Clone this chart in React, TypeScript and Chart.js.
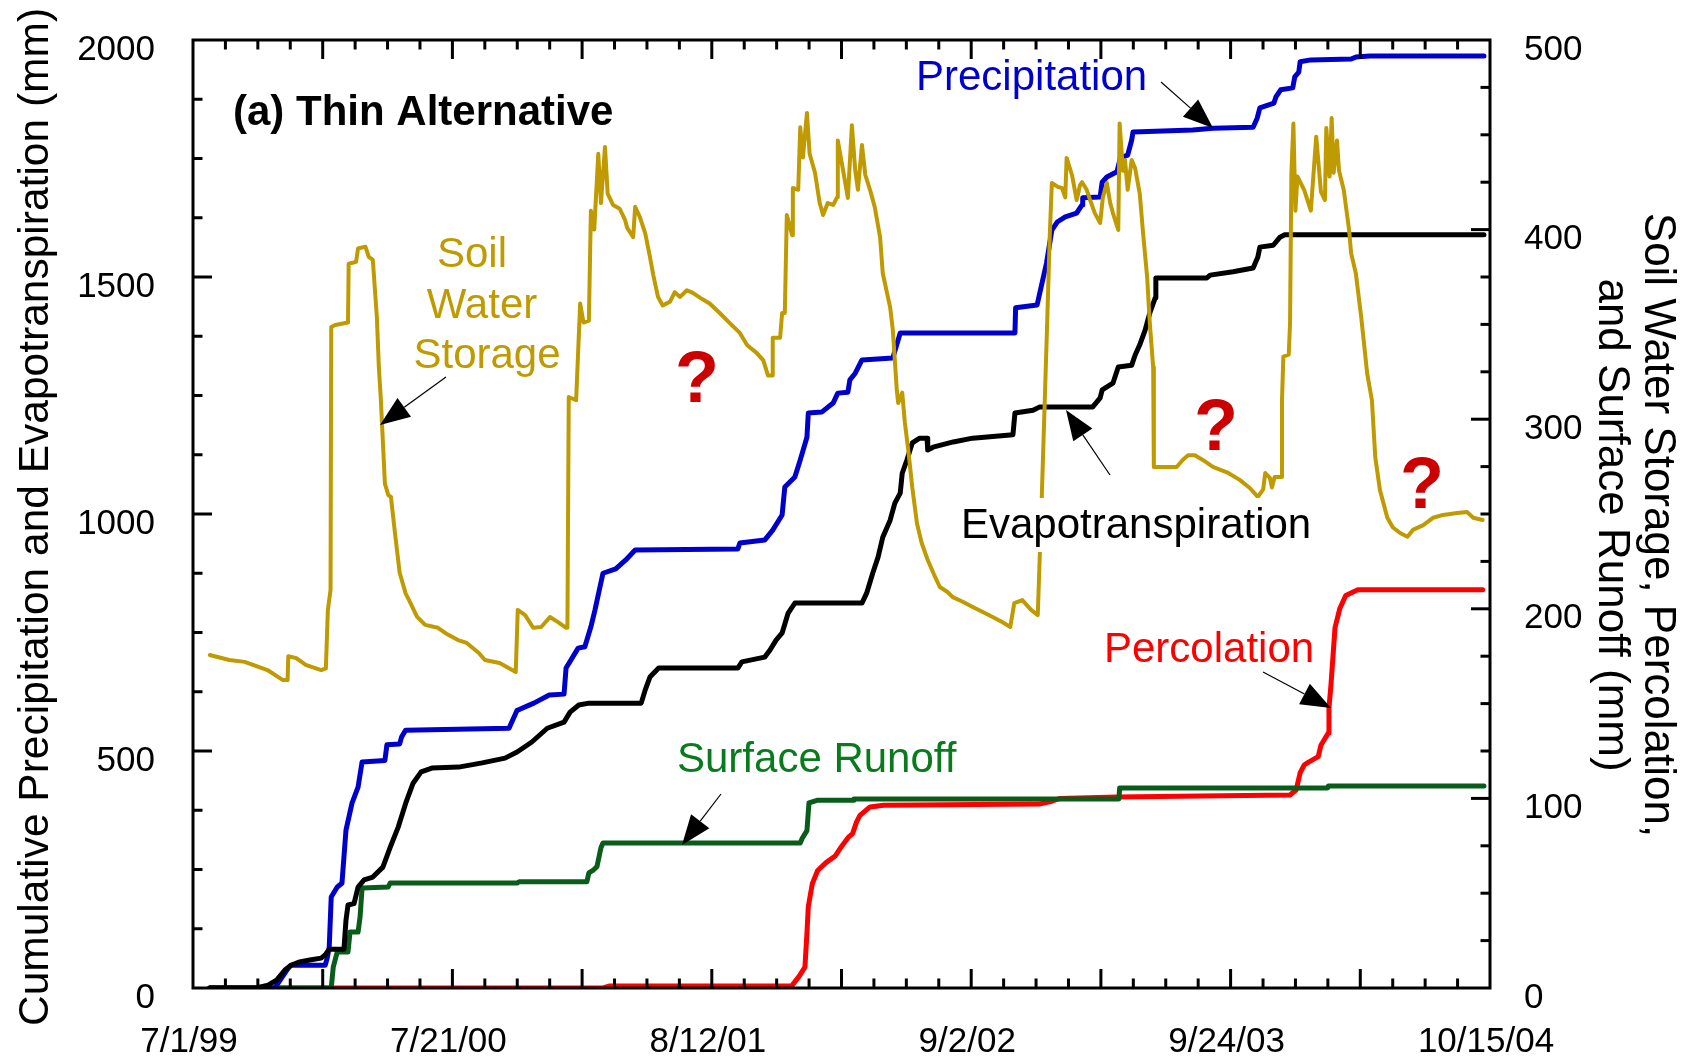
import React, { useEffect, useRef } from 'react';
import { Chart, registerables } from 'chart.js';

Chart.register(...registerables);

// ---- axes ----
const X_MAX_DAYS = 1933; // 7/1/99 .. 10/15/04
const xTickLabels = ['7/1/99', '7/21/00', '8/12/01', '9/2/02', '9/24/03', '10/15/04'];
const leftTicks = [0, 500, 1000, 1500, 2000];
const rightTicks = [0, 100, 200, 300, 400, 500];

// ---- series: [days since 7/1/99, value] ----
// Left axis (mm)
const precipitation: [number, number][] = [
  [25, 0], [122, 0], [140, 38], [146, 48], [197, 48], [200, 63], [203, 86], [206, 192], [215, 213], [222, 221],
  [228, 333], [237, 390], [246, 424], [252, 477], [286, 480], [289, 513], [308, 515], [311, 530], [317, 544],
  [471, 548], [483, 586], [487, 588], [508, 601], [531, 618], [553, 620], [556, 675], [574, 717], [584, 720],
  [593, 762], [599, 797], [611, 875], [630, 884], [645, 903], [659, 924], [812, 926], [815, 939], [852, 945],
  [864, 966], [878, 998], [882, 1057], [897, 1078], [905, 1114], [915, 1162], [917, 1213], [937, 1215],
  [954, 1234], [961, 1255], [976, 1257], [979, 1283], [987, 1297], [997, 1325], [1043, 1329], [1054, 1382],
  [1225, 1382], [1226, 1435], [1258, 1441], [1272, 1529], [1280, 1599], [1288, 1616], [1300, 1627],
  [1317, 1635], [1325, 1652], [1326, 1667], [1352, 1669], [1355, 1700], [1362, 1711], [1377, 1722],
  [1382, 1751], [1393, 1757], [1399, 1789], [1401, 1806], [1490, 1810], [1520, 1814], [1580, 1816],
  [1586, 1835], [1590, 1857], [1611, 1867], [1614, 1880], [1621, 1895], [1639, 1899], [1642, 1922],
  [1648, 1932], [1650, 1954], [1666, 1958], [1726, 1960], [1733, 1964], [1754, 1966], [1924, 1966],
];

const evapotranspiration: [number, number][] = [
  [25, 0], [94, 0], [112, 6], [125, 17], [137, 38], [146, 48], [159, 55], [174, 59], [191, 63], [197, 70],
  [203, 82], [225, 82], [228, 143], [231, 175], [240, 178], [246, 213], [255, 228], [268, 234], [283, 255],
  [294, 297], [306, 340], [317, 390], [328, 432], [340, 456], [356, 464], [396, 466], [431, 475], [465, 485],
  [483, 498], [505, 519], [528, 548], [553, 561], [562, 582], [575, 597], [590, 601], [668, 601], [674, 629],
  [681, 656], [694, 675], [812, 675], [818, 688], [852, 698], [860, 713], [869, 734], [878, 749], [887, 791],
  [897, 812], [997, 812], [1004, 833], [1013, 875], [1021, 909], [1028, 951], [1039, 987], [1046, 1023],
  [1054, 1044], [1057, 1086], [1064, 1114], [1072, 1150], [1083, 1160], [1094, 1160], [1095, 1135],
  [1103, 1141], [1133, 1152], [1162, 1160], [1222, 1167], [1225, 1213], [1252, 1219], [1262, 1226],
  [1341, 1226], [1352, 1245], [1355, 1262], [1371, 1276], [1379, 1310], [1399, 1314], [1404, 1335],
  [1411, 1357], [1419, 1388], [1426, 1424], [1434, 1456], [1435, 1498], [1511, 1498], [1516, 1504],
  [1550, 1511], [1580, 1519], [1587, 1542], [1590, 1563], [1610, 1567], [1620, 1584], [1627, 1589],
  [1924, 1589],
];

// Right axis (mm)
const soilWaterStorage: [number, number][] = [
  [25, 175.6], [54, 173], [77, 172], [111, 167.7], [134, 162.4], [141, 162.4], [142, 175], [154, 174],
  [168, 170.4], [191, 167.7], [198, 168.6], [201, 199.4], [205, 210], [206, 348.6], [212, 349.7],
  [231, 351], [232, 382], [243, 383], [246, 390], [257, 391], [262, 385.6], [268, 384], [274, 354],
  [277, 327.5], [280, 310], [286, 266], [291, 260], [295, 259], [301, 240], [308, 219], [317, 208],
  [322, 204.6], [334, 195.7], [346, 191.5], [365, 190], [377, 187], [395, 183.5], [408, 182], [426, 176.7],
  [435, 173], [457, 171.4], [469, 169], [481, 166.7], [484, 199.4], [495, 196.7], [507, 190], [519, 190.4],
  [532, 195.7], [544, 193], [556, 190], [558, 190], [560, 311.7], [571, 310], [577, 361], [582, 351],
  [590, 352], [593, 410], [598, 400], [604, 440], [608, 414], [614, 443.6], [618, 419], [626, 413],
  [636, 411], [644, 405], [647, 401], [656, 396], [659, 412], [666, 406.6], [674, 398], [681, 385.6],
  [686, 376], [693, 364.5], [700, 360], [711, 362], [718, 367], [726, 364.5], [736, 368], [745, 366.6],
  [756, 364], [770, 361], [785, 356], [800, 350.7], [815, 345.5], [826, 339], [840, 335], [850, 331],
  [857, 323], [863, 323], [864, 343], [875, 343], [878, 356], [882, 356], [885, 407.7], [893, 397],
  [894, 422], [902, 421], [905, 454], [909, 438], [915, 461.5], [919, 440], [927, 430], [934, 414],
  [939, 407.7], [946, 414], [954, 413], [960, 417], [961, 447], [969, 431], [976, 416.7], [982, 455],
  [987, 431], [991, 421], [997, 444.6], [1002, 428.8], [1009, 421], [1016, 412], [1024, 396], [1028, 377],
  [1039, 359], [1043, 347], [1049, 315], [1051, 308.5], [1057, 314], [1061, 298], [1066, 283.8],
  [1072, 264], [1079, 245], [1086, 234.7], [1095, 225.7], [1106, 216.8], [1113, 211.5], [1124, 209],
  [1133, 206], [1148, 203.6], [1162, 201], [1186, 196.7], [1206, 193], [1218, 190.4], [1224, 203],
  [1236, 204.6], [1249, 199.4], [1259, 196.7], [1265, 259], [1273, 350.7], [1277, 398], [1280, 424.6],
  [1289, 422.5], [1295, 422], [1300, 417], [1302, 437.8], [1310, 428.8], [1317, 415.6], [1322, 423.5],
  [1325, 425], [1332, 421], [1337, 415.6], [1344, 408.7], [1352, 403.5], [1356, 417], [1362, 424.6],
  [1367, 414], [1371, 408.7], [1379, 399.8], [1381, 456], [1386, 431], [1389, 436.7], [1393, 421],
  [1399, 436.7], [1404, 432.5], [1411, 419], [1416, 398], [1422, 375], [1426, 350.7], [1431, 327.5],
  [1432, 274.8], [1466, 274.8], [1475, 278.5], [1483, 281], [1493, 281], [1505, 278.5], [1520, 274.8],
  [1541, 272], [1560, 268], [1575, 263.7], [1587, 259], [1595, 263], [1598, 271.6], [1605, 269],
  [1608, 264], [1612, 269.5], [1622, 269.5], [1623, 310], [1625, 333], [1633, 334], [1635, 350.7],
  [1637, 430], [1640, 456], [1643, 410], [1646, 428], [1656, 421], [1666, 410], [1674, 449], [1681, 420],
  [1687, 415.6], [1689, 453.6], [1694, 428], [1697, 458.8], [1700, 430], [1705, 447], [1708, 431],
  [1715, 421], [1723, 399.8], [1726, 387.6], [1733, 377], [1741, 354], [1750, 324], [1757, 310],
  [1762, 280], [1769, 262.6], [1780, 248], [1788, 243], [1799, 240], [1810, 238], [1818, 241.6],
  [1833, 244], [1848, 248], [1863, 249.5], [1884, 250.5], [1899, 251], [1908, 248], [1922, 246.8],
];

const percolation: [number, number][] = [
  [25, 0], [611, 0], [620, 1], [892, 1], [903, 6], [912, 11], [915, 28.8], [917, 42.9], [923, 55],
  [931, 62], [943, 66], [957, 69.6], [966, 74.4], [977, 79.6], [983, 81.4], [989, 87.6], [994, 91],
  [1009, 95.5], [1029, 96.4], [1261, 97], [1280, 98.5], [1292, 100], [1377, 100.7], [1502, 101.3],
  [1635, 101.8], [1644, 104.4], [1650, 113.4], [1656, 117.6], [1662, 119], [1677, 122], [1681, 128],
  [1692, 134.5], [1693, 147.7], [1696, 160], [1699, 175], [1702, 190], [1709, 200], [1718, 207],
  [1736, 210], [1922, 210],
];

const surfaceRunoff: [number, number][] = [
  [25, 0], [206, 0], [209, 11], [215, 19], [231, 19], [234, 29.5], [246, 29.5], [249, 37.5], [252, 52.7],
  [291, 53.3], [294, 55.4], [483, 55.4], [486, 56], [587, 56], [590, 60.7], [596, 62], [602, 64], [608, 74],
  [611, 76.5], [905, 76.5], [908, 79], [915, 83], [918, 97.6], [930, 99], [984, 99], [985, 99.7],
  [1380, 99.7], [1381, 105.5], [1691, 105.5], [1692, 106.5], [1924, 106.5],
];

const toXY = (arr: [number, number][]) => arr.map(([x, y]) => ({ x, y }));

const FONT = '"Liberation Sans", Arial, Helvetica, sans-serif';

function drawArrow(ctx: CanvasRenderingContext2D, x0: number, y0: number, x1: number, y1: number) {
  const ang = Math.atan2(y1 - y0, x1 - x0);
  const L = 30;
  const W = 11.5;
  const bx = x1 - L * Math.cos(ang);
  const by = y1 - L * Math.sin(ang);
  ctx.save();
  ctx.strokeStyle = '#000';
  ctx.lineWidth = 1.2;
  ctx.beginPath();
  ctx.moveTo(x0, y0);
  ctx.lineTo(bx, by);
  ctx.stroke();
  ctx.fillStyle = '#000';
  ctx.beginPath();
  ctx.moveTo(x1, y1);
  ctx.lineTo(bx - W * Math.sin(ang), by + W * Math.cos(ang));
  ctx.lineTo(bx + W * Math.sin(ang), by - W * Math.cos(ang));
  ctx.closePath();
  ctx.fill();
  ctx.restore();
}

const framePlugin = {
  id: 'framePlugin',
  afterDatasetsDraw(chart: any) {
    const ctx: CanvasRenderingContext2D = chart.ctx;
    const { left, right, top, bottom } = chart.chartArea;
    const xs = chart.scales.x;
    const yl = chart.scales.y;
    const yr = chart.scales.y1;

    ctx.save();

    // Evapotranspiration label background (hides line behind it)
    ctx.fillStyle = '#fff';
    ctx.fillRect(958, 498, 364, 54);

    // annotation texts
    ctx.textBaseline = 'alphabetic';
    ctx.textAlign = 'left';
    ctx.fillStyle = '#000';
    ctx.font = `bold 42px ${FONT}`;
    ctx.fillText('(a) Thin Alternative', 233, 125);

    ctx.font = `42px ${FONT}`;
    ctx.fillStyle = '#0000cc';
    ctx.fillText('Precipitation', 916, 90);

    ctx.fillStyle = '#000';
    ctx.fillText('Evapotranspiration', 961, 538);

    ctx.fillStyle = '#ff0000';
    ctx.fillText('Percolation', 1104, 662);

    ctx.fillStyle = '#0a7a1e';
    ctx.fillText('Surface Runoff', 677, 772);

    ctx.fillStyle = '#bf9a00';
    ctx.textAlign = 'center';
    ctx.fillText('Soil', 472, 267);
    ctx.fillText('Water', 482, 318);
    ctx.fillText('Storage', 487, 368);

    ctx.fillStyle = '#cc0000';
    ctx.font = `bold 72px ${FONT}`;
    ctx.fillText('?', 697, 402);
    ctx.fillText('?', 1216, 450);
    ctx.fillText('?', 1422, 508);

    // arrows
    drawArrow(ctx, 446, 377, 380, 425);
    drawArrow(ctx, 1161, 82, 1213, 128);
    drawArrow(ctx, 1110, 475, 1066, 410);
    drawArrow(ctx, 721, 794, 682, 845);
    drawArrow(ctx, 1263, 672, 1331, 708);

    // frame
    ctx.strokeStyle = '#000';
    ctx.lineWidth = 3;
    ctx.strokeRect(left, top, right - left, bottom - top);

    // x ticks (bottom & top, inward)
    ctx.lineWidth = 3;
    const nMinor = 40;
    for (let k = 1; k < nMinor; k++) {
      const d = (k * X_MAX_DAYS) / nMinor;
      const px = xs.getPixelForValue(d);
      const len = k % 4 === 0 ? 19 : 9.5;
      ctx.beginPath();
      ctx.moveTo(px, bottom);
      ctx.lineTo(px, bottom - len);
      ctx.moveTo(px, top);
      ctx.lineTo(px, top + len);
      ctx.stroke();
    }
    // left ticks
    for (let v = 125; v < 2000; v += 125) {
      const py = yl.getPixelForValue(v);
      const len = v % 500 === 0 ? 19 : 9.5;
      ctx.beginPath();
      ctx.moveTo(left, py);
      ctx.lineTo(left + len, py);
      ctx.stroke();
    }
    // right ticks
    for (let v = 25; v < 500; v += 25) {
      const py = yr.getPixelForValue(v);
      const len = v % 100 === 0 ? 19 : 9.5;
      ctx.beginPath();
      ctx.moveTo(right, py);
      ctx.lineTo(right - len, py);
      ctx.stroke();
    }

    // tick labels
    ctx.fillStyle = '#000';
    ctx.font = `35px ${FONT}`;
    ctx.textBaseline = 'alphabetic';
    ctx.textAlign = 'right';
    leftTicks.forEach((v) => {
      ctx.fillText(String(v), 155, yl.getPixelForValue(v) + 19.5);
    });
    ctx.textAlign = 'left';
    rightTicks.forEach((v) => {
      ctx.fillText(String(v), 1524, yr.getPixelForValue(v) + 19.5);
    });
    ctx.textAlign = 'center';
    xTickLabels.forEach((lab, i) => {
      const d = (i * X_MAX_DAYS) / (xTickLabels.length - 1);
      ctx.fillText(lab, xs.getPixelForValue(d) - 4, 1052);
    });

    // axis titles
    ctx.save();
    ctx.translate(48, 517);
    ctx.rotate(-Math.PI / 2);
    ctx.textAlign = 'center';
    ctx.font = `42.5px ${FONT}`;
    ctx.fillText('Cumulative Precipitation and Evapotranspiration (mm)', 0, 0);
    ctx.restore();

    ctx.save();
    ctx.font = `44px ${FONT}`;
    ctx.textAlign = 'center';
    ctx.translate(1645, 525);
    ctx.rotate(Math.PI / 2);
    ctx.fillText('Soil Water Storage, Percolation,', 0, 0);
    ctx.restore();
    ctx.save();
    ctx.font = `44px ${FONT}`;
    ctx.textAlign = 'center';
    ctx.translate(1599, 525);
    ctx.rotate(Math.PI / 2);
    ctx.fillText('and Surface Runoff (mm)', 0, 0);
    ctx.restore();

    ctx.restore();
  },
};

export default function App() {
  const ref = useRef<HTMLCanvasElement | null>(null);

  useEffect(() => {
    if (!ref.current) return;
    const common = {
      pointRadius: 0,
      fill: false,
      tension: 0,
      borderJoinStyle: 'round' as const,
      borderCapStyle: 'round' as const,
    };
    const chart = new Chart(ref.current, {
      type: 'line',
      data: {
        datasets: [
          { ...common, label: 'Soil Water Storage', data: toXY(soilWaterStorage), borderColor: '#bf9a00', borderWidth: 4, yAxisID: 'y1' },
          { ...common, label: 'Evapotranspiration', data: toXY(evapotranspiration), borderColor: '#000000', borderWidth: 5, yAxisID: 'y' },
          { ...common, label: 'Precipitation', data: toXY(precipitation), borderColor: '#0000cc', borderWidth: 5, yAxisID: 'y' },
          { ...common, label: 'Surface Runoff', data: toXY(surfaceRunoff), borderColor: '#0a5c1a', borderWidth: 5, yAxisID: 'y1' },
          { ...common, label: 'Percolation', data: toXY(percolation), borderColor: '#ff0000', borderWidth: 5, yAxisID: 'y1' },
        ],
      },
      options: {
        animation: false,
        responsive: false,
        devicePixelRatio: 1,
        layout: { padding: { left: 193, top: 40, right: 208, bottom: 70 } },
        plugins: { legend: { display: false }, tooltip: { enabled: false } },
        scales: {
          x: { type: 'linear', min: 0, max: X_MAX_DAYS, display: false },
          y: { type: 'linear', position: 'left', min: 0, max: 2000, display: false },
          y1: { type: 'linear', position: 'right', min: 0, max: 500, display: false },
        },
      },
      plugins: [framePlugin],
    });
    return () => chart.destroy();
  }, []);

  return (
    <div style={{ position: 'fixed', left: 0, top: 0, width: 1698, height: 1058, background: '#fff' }}>
      <canvas ref={ref} width={1698} height={1058} style={{ display: 'block', width: 1698, height: 1058 }} />
    </div>
  );
}
